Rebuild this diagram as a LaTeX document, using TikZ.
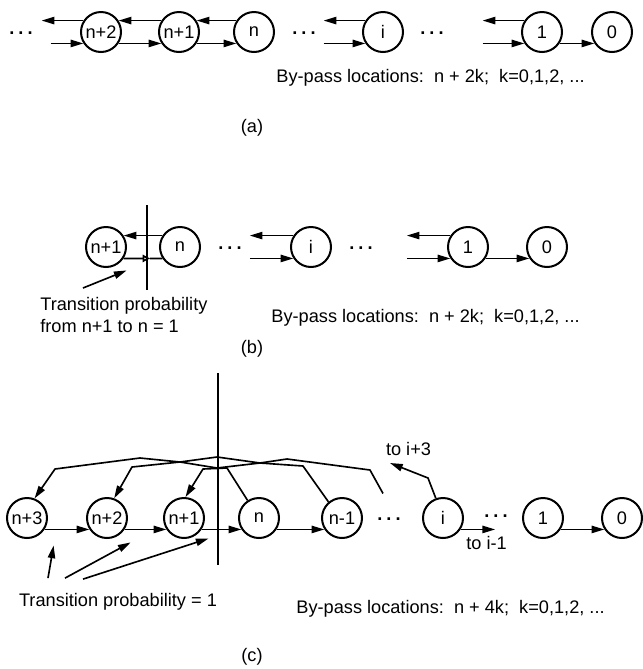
\documentclass[tikz,border=0pt]{standalone}
\usepackage{fontspec}
\setmainfont{Liberation Sans}
\usetikzlibrary{arrows.meta,calc}
\tikzset{
    state/.style={circle, draw, line width=1.1pt, minimum size=22pt, inner sep=0pt},
    link/.style={line width=0.9pt, line join=round},
    arr/.style={link, -{Triangle[length=7pt,width=4pt]}},
    cut/.style={line width=1.1pt},
    dots/.style={font=\bfseries, inner sep=1pt},
}
\newcommand{\threedots}{.\hspace{2.2pt}.\hspace{2.2pt}.}

\begin{document}
\begin{tikzpicture}[x=0.55pt,y=-0.55pt]
    \useasboundingbox (0,0) rectangle (643,669);

    % (a) by-pass at every second location
    \node[state] (an2) at (101,32) {n+2};
    \node[state] (an1) at (179,32) {n+1};
    \node[state] (an)  at (254,32) {n};
    \node[state] (ai)  at (383,32) {i};
    \node[state] (a1)  at (542,32) {1};
    \node[state] (a0)  at (612,32) {0};
    \node[dots] (ad1) at (21,33)  {\threedots};
    \node[dots] (ad2) at (304,33) {\threedots};
    \node[dots] (ad3) at (432,33) {\threedots};
    \foreach \a/\b in {an2/an1, an1/an} {
        \draw[arr] (\b.147) -- (\a.33);
        \draw[arr] (\a.-33) -- (\b.213);
    }
    \draw[arr] (an2.147) -- ([xshift=-23pt]an2.147);
    \draw[arr] ([xshift=-18pt]an2.213) -- (an2.213);
    \foreach \s in {ai, a1} {
        \draw[arr] (\s.147) -- ([xshift=-23pt]\s.147);
        \draw[arr] ([xshift=-23pt]\s.213) -- (\s.213);
    }
    \draw[arr] (a1.-33) -- (a0.213);
    \node[anchor=west] (pa) at (270,78) {By-pass locations:\ \ n + 2k;\ \ k=0,1,2, ...};
    \node (capa) at (252,128) {(a)};

    % (b) cut between n+1 and n
    \node[state] (bn1) at (106,247) {n+1};
    \node[state] (bn)  at (180,247) {n};
    \node[state] (bi)  at (311,247) {i};
    \node[state] (b1)  at (468,247) {1};
    \node[state] (b0)  at (547,247) {0};
    \node[dots] (bd1) at (230,248) {\threedots};
    \node[dots] (bd2) at (361,248) {\threedots};
    \draw[arr] (bn.147) -- (bn1.33);
    \coordinate (bmark) at ($(bn1.-33)!0.68!(bn.213)$);
    \draw[link, -{Triangle[open,length=4pt,width=4pt]}] (bn1.-33) -- (bmark);
    \draw[link] (bmark) -- (bn.213);
    \foreach \s in {bi, b1} {
        \draw[arr] (\s.147) -- ([xshift=-24pt]\s.147);
        \draw[arr] ([xshift=-24pt]\s.213) -- (\s.213);
    }
    \draw[arr] (b1.-33) -- (b0.213);
    \draw[cut] (147,205) -- (147,290);
    \node[anchor=north west, align=left, inner sep=0pt] (tpb) at (40,297)
        {Transition probability\\from n+1 to n = 1};
    \draw[arr] ([shift={(43,-9)}]tpb.north west) -- ([shift={(3,12)}]bn1.-33);
    \node[anchor=west] (pb) at (265,318) {By-pass locations:\ \ n + 2k;\ \ k=0,1,2, ...};
    \node (capb) at (252,349) {(b)};

    % (c) cut with jumps of four
    \node[state] (cn3) at (27,518)  {n+3};
    \node[state] (cn2) at (107,518) {n+2};
    \node[state] (cn1) at (184,518) {n+1};
    \node[state] (cn)  at (259,518) {n};
    \node[state] (cnm) at (342,518) {n-1};
    \node[state] (ci)  at (443,518) {i};
    \node[state] (c1)  at (543,518) {1};
    \node[state] (c0)  at (622,518) {0};
    \node[dots] (cd1) at (389,519) {\threedots};
    \node[dots] (cd2) at (496,516) {\threedots};
    \foreach \a/\b in {cn3/cn2, cn2/cn1, cn1/cn, cn/cnm, c1/c0}
        \draw[arr] (\a.-33) -- (\b.213);
    \draw[arr] (ci.-33) -- ([xshift=19pt]ci.-33) node[below, pos=0.75] {to i-1};
    \draw[arr] (ci.110) -- (428,478) -- (390,463) node[above, pos=0.8, xshift=6pt, yshift=2pt] {to i+3};
    % jumps back over the cut
    \draw[arr] ([shift={(-6,-22)}]cd1.north) -- (370,470) -- (287,459) -- (260,463) -- (217,468)
        -- (180,462) -- (140,458) -- (55,469) -- (cn3.69);
    \draw[arr] (cnm.130) -- (303,466) -- (260,463) -- (217,457) -- (180,462) -- (132,467) -- (cn2.70);
    \draw[arr] (cn.123) -- (227,468) -- (203,469) -- (cn1.86);
    \draw[cut] (218,373) -- (218,565);
    \node (tpc) at (118,602) {Transition probability = 1};
    \draw[arr] ([shift={(-70,-9)}]tpc.north) -- ([shift={(9,16)}]cn3.-33);
    \draw[arr] ([shift={(-53,-9)}]tpc.north) -- ([shift={(6,13)}]cn2.-33);
    \draw[arr] ([shift={(-35,-8)}]tpc.north) -- ([shift={(7,9)}]cn1.-33);
    \node[anchor=west] (pc) at (290,609) {By-pass locations:\ \ n + 4k;\ \ k=0,1,2, ...};
    \node (capc) at (252,657) {(c)};
\end{tikzpicture}
\end{document}
